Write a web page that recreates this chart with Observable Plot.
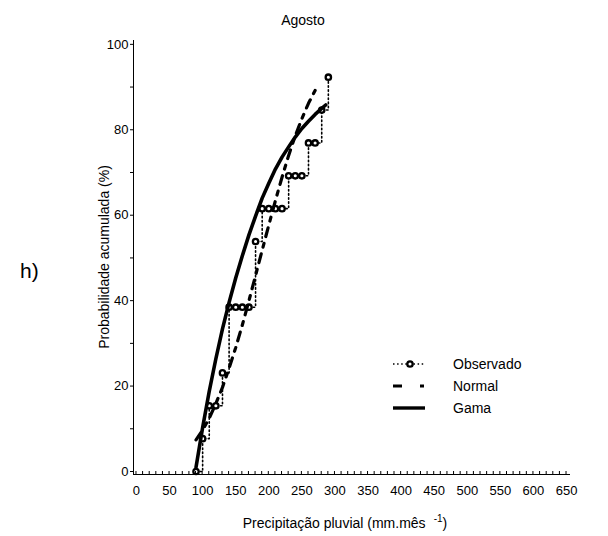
<!DOCTYPE html>
<html><head><meta charset="utf-8">
<script src="https://cdn.jsdelivr.net/npm/d3@7"></script>
<script src="https://cdn.jsdelivr.net/npm/@observablehq/plot@0.6"></script>
<style>
body{margin:0;background:#fff;}
#chart svg{font-family:"Liberation Sans",Arial,sans-serif;}
</style>
</head><body><div id="chart"></div>
<script>
const title = "Agosto";
const panelLabel = "h)";
const xTitle = "Precipitação pluvial (mm.mês";
const xTitleSup = "-1";
const yTitle = "Probabilidade acumulada (%)";
const legendNames = ["Observado", "Normal", "Gama"];

// Observed cumulative probability (step)
const precip = [90,100,110,120,130,140,150,160,170,180,190,200,210,220,230,240,250,260,270,280,290];
const observado = [0,7.69,15.38,15.38,23.08,38.46,38.46,38.46,38.46,53.85,61.54,61.54,61.54,61.54,69.23,69.23,69.23,76.92,76.92,84.62,92.31];

// Normal fitted curve
const normalX = [90,100,110,120,130,140,150,160,170,180,190,200,210,220,230,240,250,260,270];
const normalY = [7.4,9.7,12.5,15.9,19.7,24.2,29.0,34.3,40.0,45.9,51.8,57.7,63.4,68.9,74.0,78.6,82.6,86.2,89.2];

// Gamma fitted curve
const gamaX = [90,100,110,120,130,140,150,160,170,180,190,200,210,220,230,240,250,260,270,280,286];
const gamaY = [1.0,10.3,18.8,26.4,33.4,39.6,45.3,50.5,55.4,59.8,64.0,67.5,70.8,73.6,76.0,78.3,80.3,82.0,83.6,85.0,85.8];

const xLabels = [0,50,100,150,200,250,300,350,400,450,500,550,600,650];
const xMinor = [0,10,20,30,40,50,60,70,80,90,100,110,120,130,140,150,160,170,180,190,200,210,220,230,240,250,260,270,280,290,300,310,320,330,340,350,360,370,380,390,400,410,420,430,440,450,460,470,480,490,500,510,520,530,540,550,560,570,580,590,600,610,620,630,640,650];
const yLabels = [0,20,40,60,80,100];
const yMinor = [0,10,20,30,40,50,60,70,80,90,100];

const xDomain = [-4.5, 656];
const yDomain = [-0.7, 100.9];

const obs = precip.map((x, i) => ({x, y: observado[i]}));
const nor = normalX.map((x, i) => ({x, y: normalY[i]}));
const gam = gamaX.map((x, i) => ({x, y: gamaY[i]}));

const svg = Plot.plot({
  width: 608, height: 536,
  marginLeft: 133, marginRight: 38, marginTop: 40, marginBottom: 62,
  style: {fontSize: "13px", fontFamily: "'Liberation Sans', Arial, sans-serif", color: "#000", background: "#fff"},
  x: {domain: xDomain},
  y: {domain: yDomain},
  marks: [
    Plot.axisY({ticks: yMinor, tickSize: 3, tickPadding: 2, tickFormat: d => yLabels.includes(d) ? d : "", label: null, fontSize: 13}),
    Plot.axisX({ticks: xLabels, tickSize: 0, tickPadding: 11, label: null, fontSize: 13}),
    Plot.ruleX([xDomain[0]], {stroke: "#000", strokeWidth: 1}),
    Plot.ruleY([yDomain[0]], {stroke: "#000", strokeWidth: 1}),
    Plot.line(obs, {x: "x", y: "y", curve: "step-after", stroke: "#000", strokeWidth: 1.6, strokeDasharray: "1.5,2.6"}),
    Plot.dot(obs, {x: "x", y: "y", r: 2.7, stroke: "#000", strokeWidth: 2.3, fill: "#fff"}),
    Plot.line(nor, {x: "x", y: "y", stroke: "#000", strokeWidth: 3.2, strokeDasharray: "9,7,4,7"}),
    Plot.line(gam, {x: "x", y: "y", stroke: "#000", strokeWidth: 3.6})
  ]
});

const sx = svg.scale("x"), sy = svg.scale("y");
const s = d3.select(svg);
const y0 = sy.apply(yDomain[0]);
// inward minor ticks on x axis
s.append("g").selectAll("line").data(xMinor).join("line")
  .attr("x1", d => sx.apply(d)).attr("x2", d => sx.apply(d))
  .attr("y1", y0).attr("y2", y0 - 3)
  .attr("stroke", "#000").attr("stroke-width", 1);

// title
s.append("text").attr("x", 303).attr("y", 25).attr("text-anchor", "middle")
  .attr("font-size", 14).attr("fill", "#000").text(title);
// panel label
s.append("text").attr("x", 20).attr("y", 278).attr("text-anchor", "start")
  .attr("font-size", 21).attr("fill", "#000").text(panelLabel);
// y title
s.append("text").attr("transform", "translate(109,257) rotate(-90)").attr("text-anchor", "middle")
  .attr("font-size", 14).attr("fill", "#000").text(yTitle);
// x title
const xt = s.append("text").attr("x", 345).attr("y", 528).attr("text-anchor", "middle")
  .attr("font-size", 14).attr("fill", "#000");
xt.append("tspan").text(xTitle);
xt.append("tspan").attr("dx", 8).attr("dy", -6).attr("font-size", 10).text(xTitleSup);
xt.append("tspan").attr("dy", 6).text(")");

// legend
const lg = s.append("g").attr("text-anchor", "start");
const rows = [364, 386, 408];
lg.append("line").attr("x1", 393).attr("x2", 425).attr("y1", rows[0]).attr("y2", rows[0])
  .attr("stroke", "#000").attr("stroke-width", 1.6).attr("stroke-dasharray", "1.5,2.6");
lg.append("circle").attr("cx", 410).attr("cy", rows[0]).attr("r", 2.7)
  .attr("stroke", "#000").attr("stroke-width", 2.3).attr("fill", "#fff");
lg.append("line").attr("x1", 393).attr("x2", 425).attr("y1", rows[1]).attr("y2", rows[1])
  .attr("stroke", "#000").attr("stroke-width", 3.2).attr("stroke-dasharray", "9,18,4,100");
lg.append("line").attr("x1", 393).attr("x2", 425).attr("y1", rows[2]).attr("y2", rows[2])
  .attr("stroke", "#000").attr("stroke-width", 3.4);
legendNames.forEach((n, i) => {
  lg.append("text").attr("x", 453).attr("y", rows[i]).attr("dy", "0.36em").attr("text-anchor", "start")
    .attr("font-size", 14).attr("fill", "#000").text(n);
});

document.getElementById("chart").appendChild(svg);
</script>
</body></html>
